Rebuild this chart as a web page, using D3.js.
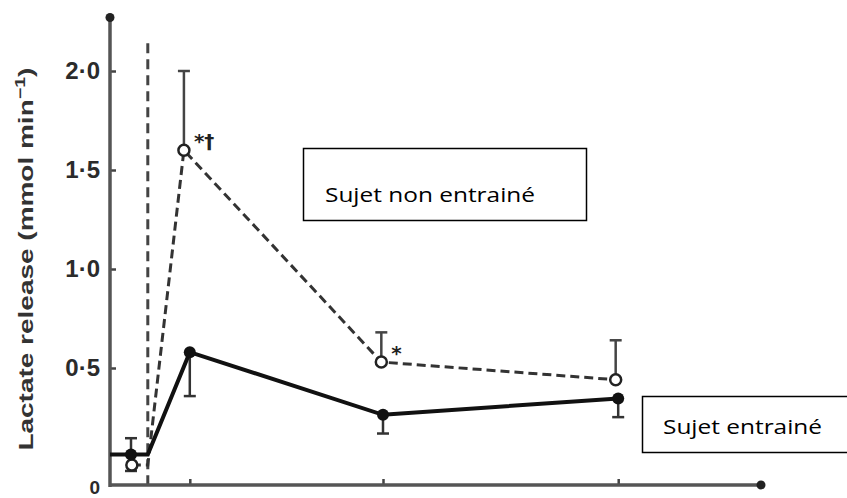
<!DOCTYPE html>
<html>
<head>
<meta charset="utf-8">
<script src="https://cdn.jsdelivr.net/npm/d3@7"></script>
<style>
  body { margin: 0; background: #fff; }
  svg { display: block; }
</style>
</head>
<body>
<div id="chart"></div>
<script>
// donnees (temps en min, lactate en mmol/min)
var trainedT = [-4.5, -2, 0, 5, 28, 56];
var trainedV = [0.13, 0.13, 0.13, 0.58, 0.30, 0.37];
var trainedErrLo = [0, 0.07, 0, 0.2, 0.08, 0.08];
var trainedErrHi = [0, 0.07, 0, 0, 0, 0];
var trainedMark = [false, true, false, true, true, true];

var untrainedT = [-1.9, 0, 4.3, 27.8, 55.7];
var untrainedV = [0.085, 0.085, 1.60, 0.53, 0.45];
var untrainedErrHi = [0, 0, 0.40, 0.15, 0.19];
var untrainedMark = [true, false, true, true, true];
var untrainedNotes = ["", "", "*\u2020", "*", ""];

var yTickValues = [0, 0.5, 1, 1.5, 2];
var yTickLabels = ["0", "0\u00b75", "1\u00b70", "1\u00b75", "2\u00b70"];
var xTickValues = [5, 28, 56];
var onsetT = 0;
var onsetTop = 2.14;
var yTop = 2.27;

var width = 847, height = 498;

var svg = d3.select("#chart").append("svg")
  .attr("width", width)
  .attr("height", height);

var x = d3.scaleLinear().domain([-4.5, 73]).range([110, 761]);
var y = d3.scaleLinear().domain([0, 0.5, 2]).range([485, 368, 71]);

var ink = "#2b2b2b";

//ligne verticale en tirets (debut de l'exercice)
svg.append("line")
  .attr("x1", x(onsetT)).attr("x2", x(onsetT))
  .attr("y1", y(onsetTop)).attr("y2", y(0))
  .attr("stroke", "#444")
  .attr("stroke-width", 3)
  .attr("stroke-dasharray", "10,6");

//axes
var yAxis = d3.axisLeft(y)
  .tickValues(yTickValues.slice(1))
  .tickSize(-6)
  .tickPadding(10)
  .tickFormat(function (d) { return yTickLabels[yTickValues.indexOf(d)]; });

var gy = svg.append("g")
  .attr("transform", "translate(" + x.range()[0] + ",0)")
  .call(yAxis);
gy.select(".domain").remove();
gy.selectAll("line").attr("stroke", "#444").attr("stroke-width", 2.5);
gy.selectAll("text")
  .attr("font-family", "Liberation Sans, Arial, sans-serif")
  .attr("font-weight", "bold")
  .attr("font-size", 24)
  .attr("fill", ink);

svg.append("text")
  .attr("x", x.range()[0] - 10)
  .attr("y", height - 4)
  .attr("text-anchor", "end")
  .attr("font-family", "Liberation Sans, Arial, sans-serif")
  .attr("font-weight", "bold")
  .attr("font-size", 19)
  .attr("fill", ink)
  .text(yTickLabels[0]);

var xAxis = d3.axisTop(x)
  .tickValues(xTickValues)
  .tickSize(6)
  .tickSizeOuter(0)
  .tickFormat("");

var gx = svg.append("g")
  .attr("transform", "translate(0," + y(0) + ")")
  .call(xAxis);
gx.select(".domain").remove();
gx.selectAll("line").attr("stroke", "#444").attr("stroke-width", 2.5);

svg.append("line")
  .attr("x1", x.range()[0]).attr("x2", x.range()[0])
  .attr("y1", y(yTop)).attr("y2", y(0) + 2)
  .attr("stroke", "#555").attr("stroke-width", 3.5);
svg.append("line")
  .attr("x1", x.range()[0]).attr("x2", x.range()[1])
  .attr("y1", y(0)).attr("y2", y(0))
  .attr("stroke", "#555").attr("stroke-width", 3.5);
svg.append("circle").attr("cx", x.range()[0]).attr("cy", y(yTop)).attr("r", 4.5).attr("fill", "#222");
svg.append("circle").attr("cx", x.range()[1]).attr("cy", y(0)).attr("r", 4.5).attr("fill", "#222");

svg.append("text")
  .attr("transform", "translate(33," + y(1.05) + ") rotate(-90)")
  .attr("text-anchor", "middle")
  .attr("font-family", "Liberation Sans, Arial, sans-serif")
  .attr("font-weight", "bold")
  .attr("font-size", 20)
  .attr("fill", "#333")
  .attr("textLength", 383)
  .attr("lengthAdjust", "spacingAndGlyphs")
  .html("Lactate release (mmol min<tspan dy='-8' font-size='14'>\u22121</tspan><tspan dy='8'>)</tspan>");

//series
var trained = trainedT.map(function (t, i) {
  return { t: t, v: trainedV[i], lo: trainedErrLo[i], hi: trainedErrHi[i], mark: trainedMark[i] };
});
var untrained = untrainedT.map(function (t, i) {
  return { t: t, v: untrainedV[i], lo: 0, hi: untrainedErrHi[i], mark: untrainedMark[i], note: untrainedNotes[i] };
});

var line = d3.line()
  .x(function (d) { return x(d.t); })
  .y(function (d) { return y(d.v); });

function errorBars(data, color) {
  var g = svg.append("g").attr("stroke", color).attr("stroke-width", 2.5);
  var bars = data.filter(function (d) { return d.lo > 0 || d.hi > 0; });
  g.selectAll(".err")
    .data(bars)
    .enter()
    .append("line")
    .attr("x1", function (d) { return x(d.t); })
    .attr("x2", function (d) { return x(d.t); })
    .attr("y1", function (d) { return y(d.v - d.lo); })
    .attr("y2", function (d) { return y(d.v + d.hi); });
  g.selectAll(".capLo")
    .data(bars.filter(function (d) { return d.lo > 0; }))
    .enter()
    .append("line")
    .attr("x1", function (d) { return x(d.t) - 6; })
    .attr("x2", function (d) { return x(d.t) + 6; })
    .attr("y1", function (d) { return y(d.v - d.lo); })
    .attr("y2", function (d) { return y(d.v - d.lo); });
  g.selectAll(".capHi")
    .data(bars.filter(function (d) { return d.hi > 0; }))
    .enter()
    .append("line")
    .attr("x1", function (d) { return x(d.t) - 6; })
    .attr("x2", function (d) { return x(d.t) + 6; })
    .attr("y1", function (d) { return y(d.v + d.hi); })
    .attr("y2", function (d) { return y(d.v + d.hi); });
}

errorBars(untrained, "#444");
errorBars(trained, "#333");

svg.append("path")
  .datum(untrained)
  .attr("fill", "none")
  .attr("stroke", "#333")
  .attr("stroke-width", 3)
  .attr("stroke-dasharray", "9,5")
  .attr("d", line);

svg.append("path")
  .datum(trained)
  .attr("fill", "none")
  .attr("stroke", "#111")
  .attr("stroke-width", 4)
  .attr("d", line);

svg.selectAll(".open")
  .data(untrained.filter(function (d) { return d.mark; }))
  .enter()
  .append("circle")
  .attr("cx", function (d) { return x(d.t); })
  .attr("cy", function (d) { return y(d.v); })
  .attr("r", 5.5)
  .attr("fill", "#fff")
  .attr("stroke", "#222")
  .attr("stroke-width", 2.5);

svg.selectAll(".filled")
  .data(trained.filter(function (d) { return d.mark; }))
  .enter()
  .append("circle")
  .attr("cx", function (d) { return x(d.t); })
  .attr("cy", function (d) { return y(d.v); })
  .attr("r", 6)
  .attr("fill", "#111");

svg.selectAll(".note")
  .data(untrained.filter(function (d) { return d.note; }))
  .enter()
  .append("text")
  .attr("x", function (d) { return x(d.t) + 10; })
  .attr("y", function (d) { return y(d.v) - 2; })
  .attr("font-family", "DejaVu Sans, sans-serif")
  .attr("font-weight", "bold")
  .attr("font-size", 20)
  .attr("fill", "#222")
  .text(function (d) { return d.note; });

//cadres de legende
function labelBox(x0, y0, w, h, label, tx, ty, tl) {
  svg.append("rect")
    .attr("x", x0).attr("y", y0)
    .attr("width", w).attr("height", h)
    .attr("fill", "#fff")
    .attr("stroke", "#000")
    .attr("stroke-width", 1.5);
  svg.append("text")
    .attr("x", tx).attr("y", ty)
    .attr("font-family", "Open Sans, Noto Sans, sans-serif")
    .attr("font-size", 20)
    .attr("fill", "#000")
    .attr("textLength", tl)
    .attr("lengthAdjust", "spacingAndGlyphs")
    .text(label);
}

labelBox(303.5, 148.5, 283, 72, "Sujet non entrainé", 325, 202, 210);
labelBox(642.5, 396.5, 210, 56, "Sujet entrainé", 663, 434, 159);
</script>
</body>
</html>
